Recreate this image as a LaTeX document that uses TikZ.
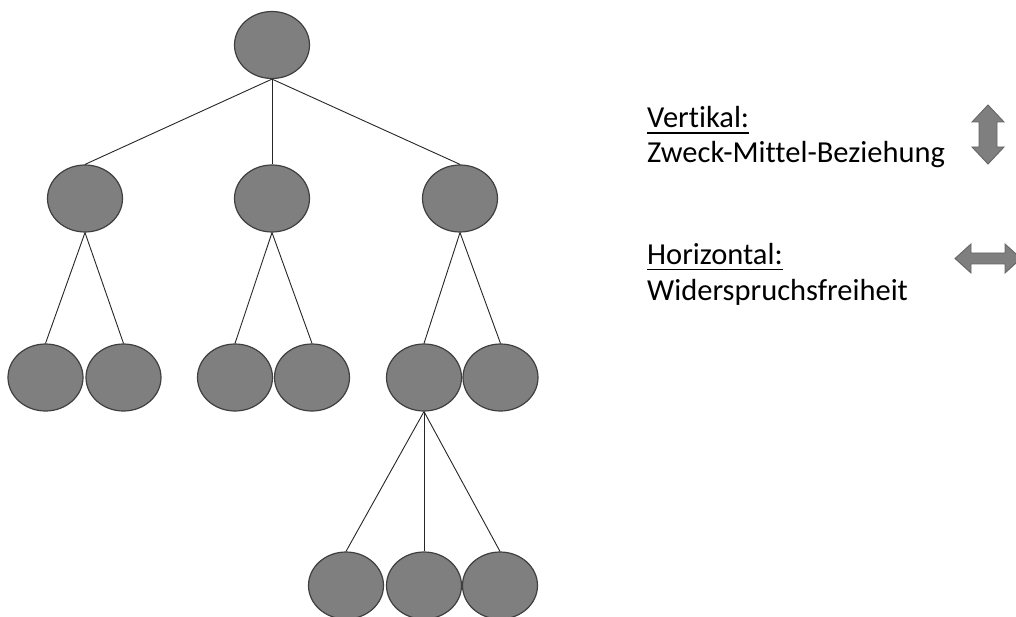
\documentclass[tikz,border=0pt]{standalone}
\usepackage{fontspec}
\setmainfont[Ligatures=NoCommon]{Carlito}
\usetikzlibrary{shapes.geometric}
\definecolor{nodefill}{HTML}{7F7F7F}
\definecolor{nodeedge}{HTML}{3F3F3F}
\begin{document}
\begin{tikzpicture}[x=1pt,y=-1pt,
  leaf/.style={ellipse,draw=nodeedge,line width=1.2pt,fill=nodefill,
    minimum width=75pt,minimum height=67pt,inner sep=0pt},
  edge/.style={draw=black!85,line width=0.9pt},
  label/.style={anchor=base west,inner sep=0pt,font=\fontsize{30.5}{35}\selectfont},
  bigarrow/.style={fill=nodefill,draw=nodeedge!80,line width=0.9pt,line join=miter}]
\useasboundingbox (0,0) rectangle (1016,617);
\clip (0,0) rectangle (1016,617);

% tree nodes
\node[leaf] (r) at (272,45) {};
\node[leaf] (a) at (85,198.5) {};
\node[leaf] (b) at (272,198.5) {};
\node[leaf] (c) at (460,198.5) {};
\node[leaf] (a1) at (45.5,377.5) {};
\node[leaf] (a2) at (123.5,377.5) {};
\node[leaf] (b1) at (235,377.5) {};
\node[leaf] (b2) at (312,377.5) {};
\node[leaf] (c1) at (424,377.5) {};
\node[leaf] (c2) at (500.5,377.5) {};
\node[leaf] (d1) at (346,585.5) {};
\node[leaf] (d2) at (424,585.5) {};
\node[leaf] (d3) at (500,585.5) {};

% connectors: parent bottom to child top
\foreach \p/\c in {r/a,r/b,r/c,a/a1,a/a2,b/b1,b/b2,c/c1,c/c2,c1/d1,c1/d2,c1/d3}
  \draw[edge] (\p.south) -- (\c.north);

% legend texts
\node[label] (v) at (647,128) {Vertikal:};
\draw[line width=1.8pt] ([yshift=-5pt]v.base west) -- ([yshift=-5pt]v.base east);
\node[label] (vt) at (647,163) {Zweck-Mittel-Beziehung};
\node[label] (h) at (647,265) {Horizontal:};
\draw[line width=1.8pt] ([yshift=-4.5pt]h.base west) -- ([yshift=-4.5pt]h.base east);
\node[label] (ht) at (647,300) {Widerspruchsfreiheit};

% block arrows
\draw[bigarrow] (988,105) -- (1004,122) -- (997,122) -- (997,147) -- (1004,147)
  -- (988,164) -- (972,147) -- (979,147) -- (979,122) -- (972,122) -- cycle;
\draw[bigarrow] (955,258.5) -- (971,244) -- (971,253) -- (1005,253) -- (1005,244)
  -- (1021,258.5) -- (1005,273) -- (1005,264) -- (971,264) -- (971,273) -- cycle;
\end{tikzpicture}
\end{document}
